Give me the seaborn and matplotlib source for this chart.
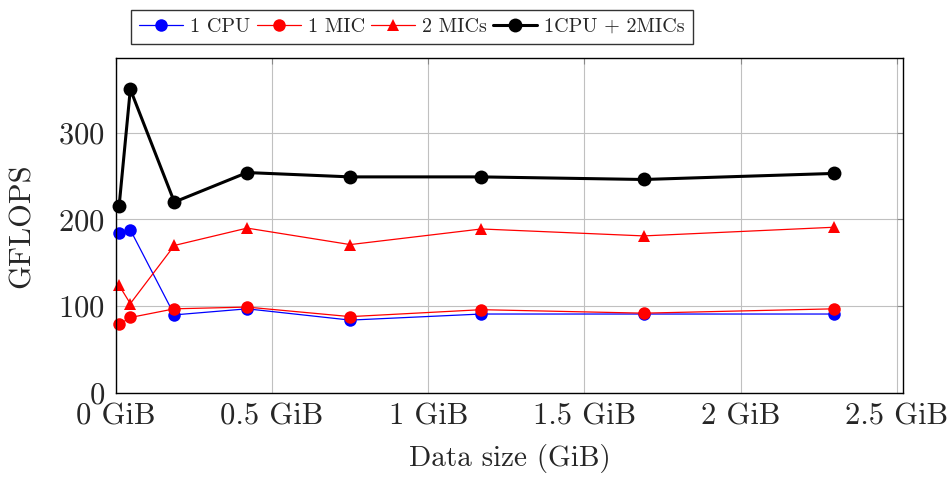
import matplotlib
matplotlib.use("Agg")
import matplotlib.pyplot as plt
import seaborn as sns

# data
data_size = [0.01, 0.046, 0.187, 0.42, 0.75, 1.17, 1.69, 2.30]
cpu_1 = [184, 188, 90, 97, 84, 91, 91, 91]
mic_1 = [79, 87, 97, 99, 88, 96, 92, 97]
mic_2 = [124, 103, 170, 190, 171, 189, 181, 191]
cpu1_mic2 = [215, 350, 220, 254, 249, 249, 246, 253]

x_ticks = [0, 0.5, 1, 1.5, 2, 2.5]
x_tick_labels = ["0 GiB", "0.5 GiB", "1 GiB", "1.5 GiB", "2 GiB", "2.5 GiB"]
y_ticks = [0, 100, 200, 300]

sns.set_style("whitegrid")
plt.rcParams["font.family"] = ["cmr10", "DejaVu Serif"]
plt.rcParams["mathtext.fontset"] = "cm"
plt.rcParams["axes.formatter.use_mathtext"] = True

fig = plt.figure(figsize=(9.52, 4.78), dpi=100)
ax = fig.add_axes([0.1218, 0.1778, 0.8267, 0.7009])

series = [
    ("1 CPU", cpu_1, "blue", "o", 0.9, 9),
    ("1 MIC", mic_1, "red", "o", 0.9, 9),
    ("2 MICs", mic_2, "red", "^", 0.9, 8),
    ("1CPU + 2MICs", cpu1_mic2, "black", "o", 2.2, 10),
]
for label, vals, color, marker, lw, ms in series:
    sns.lineplot(x=data_size, y=vals, ax=ax, label=label, color=color,
                 marker=marker, linewidth=lw, markersize=ms,
                 markeredgewidth=0, clip_on=False, sort=False)

ax.set_xlim(0, 2.52)
ax.set_ylim(0, 386)
ax.set_xticks(x_ticks)
ax.set_xticklabels(x_tick_labels)
ax.set_yticks(y_ticks)
ax.tick_params(labelsize=22, direction="in", length=4, color="#888888",
               top=True, right=True)
ax.tick_params(axis="x", pad=7)
ax.tick_params(axis="y", pad=8)
ax.grid(True, color="#c0c0c0", linewidth=0.8)
for s in ax.spines.values():
    s.set_color("black")
    s.set_linewidth(1.0)
ax.set_xlabel("Data size (GiB)", fontsize=21, labelpad=10)
ax.set_ylabel("GFLOPS", fontsize=22, labelpad=16)

ax.legend(loc="lower left", bbox_to_anchor=(131 / 952, 1 - 44 / 478),
          bbox_transform=fig.transFigure, ncol=4, fontsize=14.5,
          frameon=True, fancybox=False, edgecolor="black",
          handlelength=2.2, handletextpad=0.34, columnspacing=0.3,
          borderpad=0.4, borderaxespad=0)

fig.savefig("out.png", dpi=100)
